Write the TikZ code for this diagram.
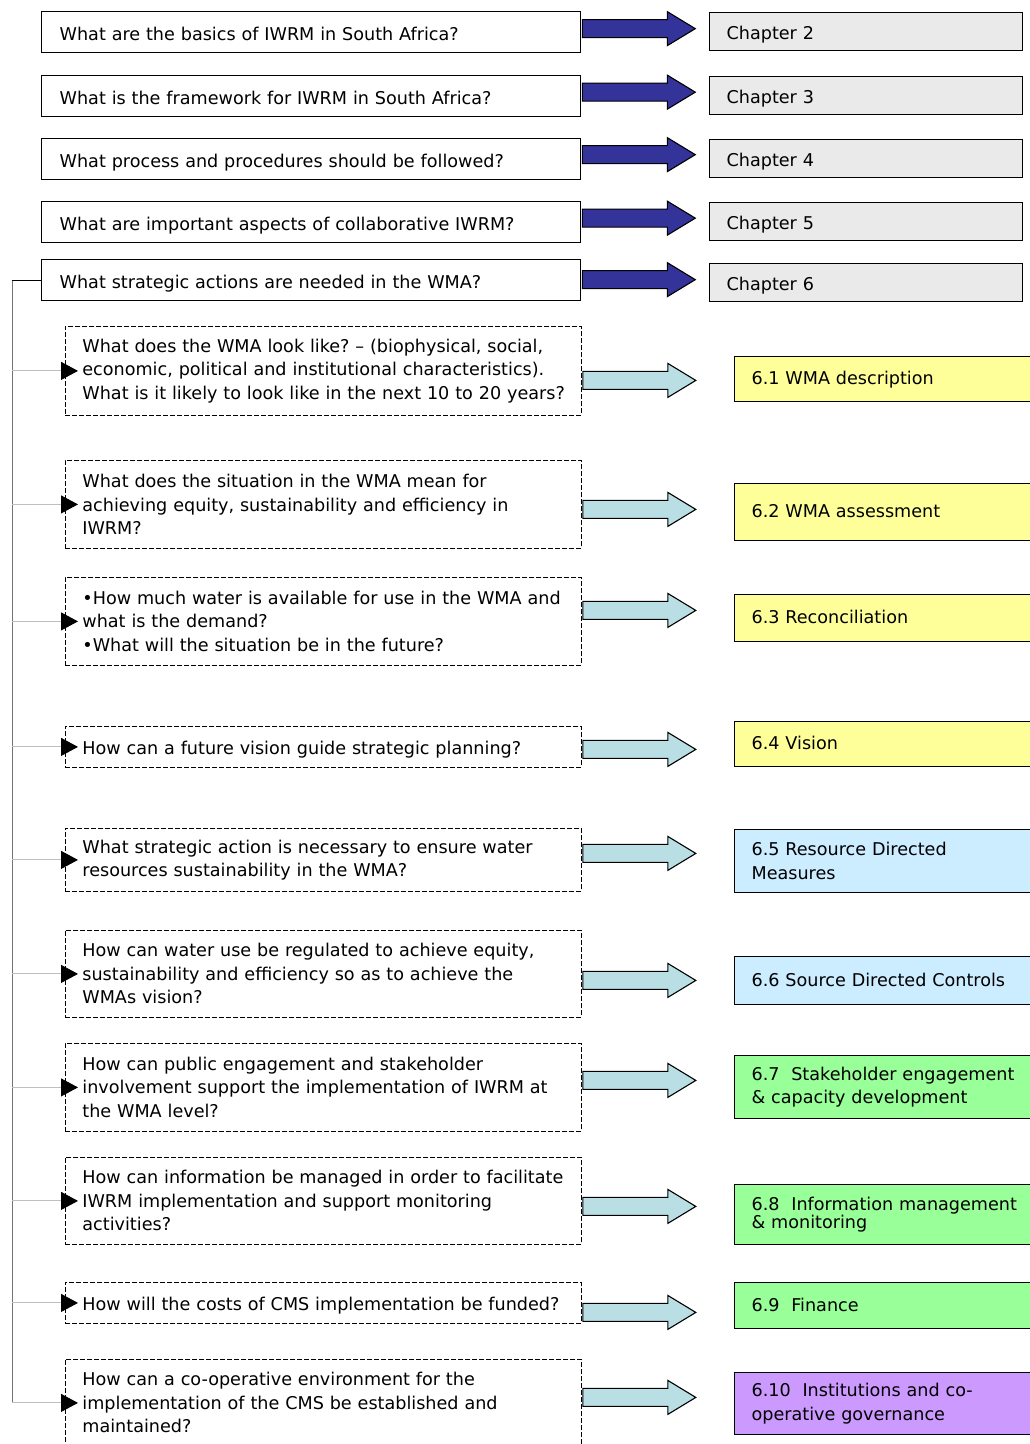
\documentclass[tikz,border=0pt]{standalone}
\usepackage{fontspec}
\setmainfont{DejaVu Sans}
\usetikzlibrary{arrows.meta,calc}
\frenchspacing

\definecolor{chapgray}{HTML}{EAEAEA}
\definecolor{darkarrow}{HTML}{333399}
\definecolor{lightarrow}{HTML}{B9DFE4}
\definecolor{ansyellow}{HTML}{FFFF99}
\definecolor{ansblue}{HTML}{CCECFF}
\definecolor{ansgreen}{HTML}{99FF99}
\definecolor{anspurple}{HTML}{CC99FF}

% keep a line of text unbroken
\newcommand\nb[1]{\mbox{#1}}

% block arrow: style, source node, vertical offset from its east anchor
\newcommand\blockarrow[3]{%
  \draw[#1] ($(#2.east)+(1,#3)$) ++(0,-9) -- ++(85,0) -- ++(0,-8) -- ++(28,17)
    -- ++(-28,17) -- ++(0,-8) -- ++(-85,0) -- cycle;}

\begin{document}
\begin{tikzpicture}[x=1pt,y=-1pt,
  txt/.style={font=\fontsize{17.6}{23.5}\selectfont},
  topq/.style={txt, draw, line width=1.3pt, anchor=north west, inner xsep=18pt,
    text width=503pt, minimum height=41pt, align=left, text height=18pt, text depth=2pt},
  chapbox/.style={txt, draw, fill=chapgray, line width=1.2pt, anchor=north west,
    inner xsep=17pt, text width=279pt, minimum height=38pt, align=left,
    text height=18pt, text depth=2pt},
  qbox/.style={txt, draw, line width=0.8pt, dash pattern=on 5pt off 2pt,
    anchor=north west, inner xsep=17pt, text width=482pt, align=left},
  qone/.style={qbox, text height=18pt, text depth=2pt},
  abox/.style={txt, draw, line width=1.2pt, anchor=north west, inner xsep=17pt,
    text width=275pt, align=left},
  aone/.style={abox, text height=15.5pt, text depth=4pt},
  darkblock/.style={draw=black, line width=1.1pt, fill=darkarrow, line join=miter},
  lightblock/.style={draw=black, line width=1.1pt, fill=lightarrow, line join=miter},
  spine/.style={black!55, line width=0.9pt},
  branch/.style={black!25, line width=0.9pt,
    -{Triangle[length=17pt,width=18pt,color=black]}},
]
\useasboundingbox (0,0) rectangle (1029,1444);

% chapter-level questions
\node[topq] (t1) at (41,11)  {What are the basics of IWRM in South Africa?};
\node[topq] (t2) at (41,75)  {What is the framework for IWRM in South Africa?};
\node[topq] (t3) at (41,138) {What process and procedures should be followed?};
\node[topq] (t4) at (41,201) {What are important aspects of collaborative IWRM?};
\node[topq] (t5) at (41,259) {What strategic actions are needed in the WMA?};

\node[chapbox] (c2) at (709,12)  {Chapter 2};
\node[chapbox] (c3) at (709,76)  {Chapter 3};
\node[chapbox] (c4) at (709,139) {Chapter 4};
\node[chapbox] (c5) at (709,202) {Chapter 5};
\node[chapbox] (c6) at (709,263) {Chapter 6};

\blockarrow{darkblock}{t1}{-3.5}
\blockarrow{darkblock}{t2}{-4}
\blockarrow{darkblock}{t3}{-4.5}
\blockarrow{darkblock}{t4}{-4}
\blockarrow{darkblock}{t5}{-0.5}

% chapter 6 questions
\node[qbox, minimum height=89pt] (q1) at (65,326) {\nb{What does the WMA look like? – (biophysical, social,}\\\nb{economic, political and institutional characteristics).}\\\nb{What is it likely to look like in the next 10 to 20 years?}};
\node[qbox, minimum height=88pt] (q2) at (65,460) {\nb{What does the situation in the WMA mean for}\\\nb{achieving equity, sustainability and efficiency in}\\\nb{IWRM?}};
\node[qbox, minimum height=88pt] (q3) at (65,577) {\nb{•How much water is available for use in the WMA and}\\\nb{what is the demand?}\\\nb{•What will the situation be in the future?}};
\node[qone, minimum height=41pt] (q4) at (65,726) {\nb{How can a future vision guide strategic planning?}};
\node[qbox, minimum height=63pt] (q5) at (65,828) {\nb{What strategic action is necessary to ensure water}\\\nb{resources sustainability in the WMA?}};
\node[qbox, minimum height=87pt] (q6) at (65,930) {\nb{How can water use be regulated to achieve equity,}\\\nb{sustainability and efficiency so as to achieve the}\\\nb{WMAs vision?}};
\node[qbox, minimum height=88pt] (q7) at (65,1043) {\nb{How can public engagement and stakeholder}\\\nb{involvement support the implementation of IWRM at}\\\nb{the WMA level?}};
\node[qbox, minimum height=87pt] (q8) at (65,1157) {\nb{How can information be managed in order to facilitate}\\\nb{IWRM implementation and support monitoring}\\\nb{activities?}};
\node[qone, minimum height=41pt] (q9) at (65,1282) {\nb{How will the costs of CMS implementation be funded?}};
\node[qbox, minimum height=87pt] (q10) at (65,1359) {\nb{How can a co-operative environment for the}\\\nb{implementation of the CMS be established and}\\\nb{maintained?}};

% chapter 6 sections
\node[aone, fill=ansyellow, minimum height=45pt] (a1) at (734,356) {6.1 WMA description};
\node[aone, fill=ansyellow, minimum height=57pt] (a2) at (734,483) {6.2 WMA assessment};
\node[aone, fill=ansyellow, minimum height=47pt] (a3) at (734,594) {6.3 Reconciliation};
\node[aone, fill=ansyellow, minimum height=45pt] (a4) at (734,721) {6.4 Vision};
\node[abox, fill=ansblue, minimum height=63pt] (a5) at (734,829) {6.5 Resource Directed\\Measures};
\node[aone, fill=ansblue, minimum height=48pt] (a6) at (734,956) {6.6 Source Directed Controls};
\node[abox, fill=ansgreen, minimum height=63pt] (a7) at (734,1055) {\nb{6.7~~Stakeholder engagement}\\\& capacity development};
\node[abox, fill=ansgreen, minimum height=60pt,
  font=\fontsize{17.6}{18}\selectfont] (a8) at (734,1184) {\nb{6.8~~Information management}\\\& monitoring};
\node[aone, fill=ansgreen, minimum height=46pt] (a9) at (734,1282) {6.9~~Finance};
\node[abox, fill=anspurple, minimum height=62pt] (a10) at (734,1372) {6.10~~Institutions and co-\\operative governance};

\blockarrow{lightblock}{q1}{9.5}
\blockarrow{lightblock}{q2}{5}
\blockarrow{lightblock}{q3}{-11}
\blockarrow{lightblock}{q4}{2.5}
\blockarrow{lightblock}{q5}{-6.5}
\blockarrow{lightblock}{q6}{6.5}
\blockarrow{lightblock}{q7}{-7}
\blockarrow{lightblock}{q8}{5.5}
\blockarrow{lightblock}{q9}{9.5}
\blockarrow{lightblock}{q10}{-5.5}

% spine linking chapter 6 to its questions
\coordinate (sp) at (12,0);
\draw[spine] (sp |- t5.west) -- (sp |- q10.west);
\draw[line width=0.8pt] (sp |- t5.west) -- (t5.west);
\foreach \q in {q1,q2,q3,q4,q5,q6,q7,q8,q9,q10}
  \draw[branch] (sp |- \q.west) -- ($(\q.west)+(13,0)$);
\end{tikzpicture}
\end{document}
